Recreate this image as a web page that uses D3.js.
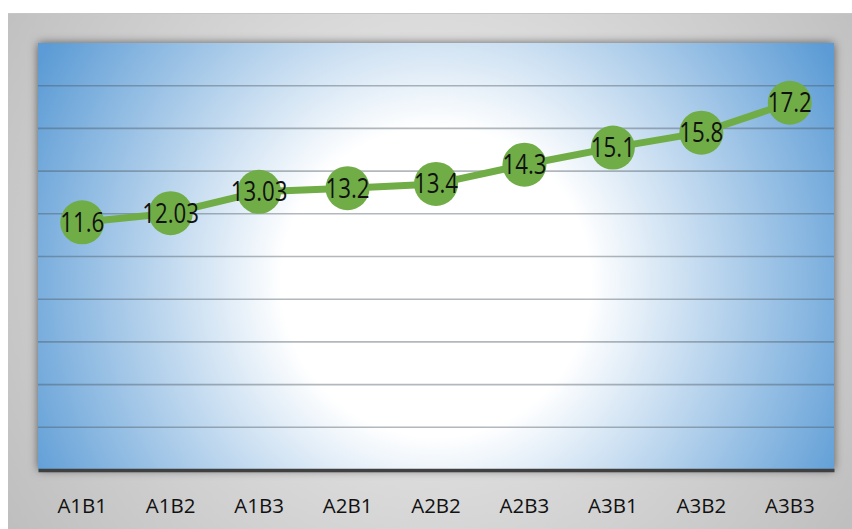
<!DOCTYPE html>
<html>
<head>
<meta charset="utf-8">
<script src="https://cdn.jsdelivr.net/npm/d3@7"></script>
<style>
  html, body { margin: 0; padding: 0; background: #fff; }
  svg { display: block; }
</style>
</head>
<body>
<svg id="chart" width="852" height="529"></svg>
<script>
// ── Data ─────────────────────────────────────────────
const categories = ['A1B1', 'A1B2', 'A1B3', 'A2B1', 'A2B2', 'A2B3', 'A3B1', 'A3B2', 'A3B3'];
const values     = [11.6, 12.03, 13.03, 13.2, 13.4, 14.3, 15.1, 15.8, 17.2];
const labels     = ['11.6', '12.03', '13.03', '13.2', '13.4', '14.3', '15.1', '15.8', '17.2'];
const yTicks     = [2, 4, 6, 8, 10, 12, 14, 16, 18, 20];

(function () {
  const svg = d3.select('#chart');
  const W = 852, H = 529;
  const plot = { left: 38, right: 834, top: 43, bottom: 470 };

  const defs = svg.append('defs');

  // outer grey panel gradient
  const og = defs.append('radialGradient').attr('id', 'outerGrad')
    .attr('gradientUnits', 'userSpaceOnUse')
    .attr('cx', 430).attr('cy', 250).attr('r', 500);
  og.append('stop').attr('offset', '0').attr('stop-color', '#f2f2f2');
  og.append('stop').attr('offset', '1').attr('stop-color', '#bfbfbf');

  // plot area: white centre fading to blue corners
  const pg = defs.append('radialGradient').attr('id', 'plotGrad')
    .attr('gradientUnits', 'userSpaceOnUse')
    .attr('cx', 436).attr('cy', 282).attr('r', 455);
  pg.append('stop').attr('offset', '0').attr('stop-color', '#ffffff');
  pg.append('stop').attr('offset', '0.34').attr('stop-color', '#ffffff');
  pg.append('stop').attr('offset', '1').attr('stop-color', '#5b9bd5');

  const sh = defs.append('filter').attr('id', 'shadow')
    .attr('x', '-10%').attr('y', '-10%').attr('width', '120%').attr('height', '120%');
  sh.append('feDropShadow').attr('dx', 0).attr('dy', 0)
    .attr('stdDeviation', 5).attr('flood-color', '#000').attr('flood-opacity', 0.55);

  // ── Outer panel ───────────────────────────────────
  svg.append('rect')
    .attr('x', 8).attr('y', 13).attr('width', W - 8).attr('height', H - 13)
    .attr('fill', 'url(#outerGrad)');
  svg.append('line')
    .attr('x1', 8).attr('x2', W).attr('y1', 13.5).attr('y2', 13.5)
    .attr('stroke', '#c6c6c6').attr('stroke-width', 1);

  // ── Plot area ─────────────────────────────────────
  svg.append('rect')
    .attr('x', plot.left).attr('y', plot.top)
    .attr('width', plot.right - plot.left).attr('height', plot.bottom - plot.top)
    .attr('fill', 'url(#plotGrad)')
    .attr('filter', 'url(#shadow)');

  const x = d3.scaleBand().domain(categories).range([plot.left, plot.right]);
  const y = d3.scaleLinear().domain([0, 20]).range([plot.bottom, plot.top]);
  const cx = c => x(c) + x.bandwidth() / 2;

  // gridlines
  svg.append('g').attr('class', 'grid')
    .selectAll('line').data(yTicks.filter(t => t < 20)).join('line')
    .attr('x1', plot.left).attr('x2', plot.right)
    .attr('y1', d => y(d)).attr('y2', d => y(d))
    .attr('stroke', '#4a5560').attr('stroke-opacity', 0.42).attr('stroke-width', 1.6);

  // x axis
  const xAxis = svg.append('g')
    .attr('transform', `translate(0,${plot.bottom})`)
    .call(d3.axisBottom(x).tickSize(0).tickPadding(28));
  xAxis.select('.domain')
    .attr('stroke', '#404040').attr('stroke-width', 3.5);
  xAxis.selectAll('text')
    .attr('font-family', '"Open Sans", "Noto Sans", sans-serif')
    .attr('font-size', '20.5px')
    .attr('fill', '#111');

  // ── Series ────────────────────────────────────────
  const pts = categories.map((c, i) => ({ c, v: values[i], label: labels[i] }));

  svg.append('path')
    .datum(pts)
    .attr('fill', 'none')
    .attr('stroke', '#70ad47')
    .attr('stroke-width', 7)
    .attr('stroke-linejoin', 'round')
    .attr('d', d3.line().x(d => cx(d.c)).y(d => y(d.v)));

  svg.append('g').selectAll('circle').data(pts).join('circle')
    .attr('cx', d => cx(d.c)).attr('cy', d => y(d.v))
    .attr('r', 22)
    .attr('fill', '#70ad47');

  // data labels: condensed a bit horizontally to mimic Calibri
  svg.append('g').selectAll('text').data(pts).join('text')
    .attr('transform', d => `translate(${cx(d.c)},${y(d.v)}) scale(0.84,1)`)
    .attr('dy', '0.36em')
    .attr('text-anchor', 'middle')
    .attr('font-family', '"Open Sans", "Noto Sans", sans-serif')
    .attr('font-size', '26.5px')
    .attr('fill', '#111')
    .text(d => d.label);
})();
</script>
</body>
</html>
